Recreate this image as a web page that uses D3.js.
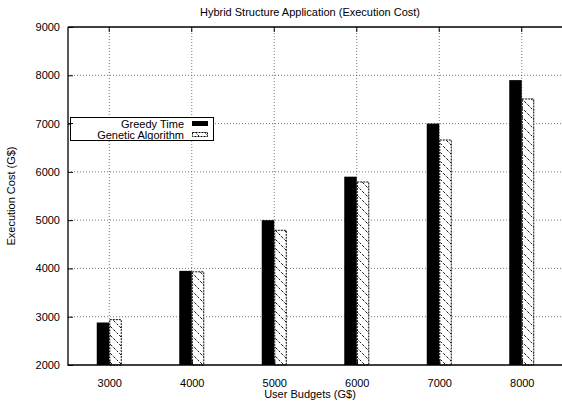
<!DOCTYPE html>
<html><head><meta charset="utf-8">
<script src="https://cdn.jsdelivr.net/npm/d3@7"></script>
<style>body{margin:0;background:#fff}svg{display:block}text{font-family:"Liberation Sans",Arial,sans-serif;fill:#000}</style>
</head><body><svg id="c" width="562" height="402"></svg>
<script>
const categories = [3000, 4000, 5000, 6000, 7000, 8000];
const greedyTime = [2880, 3950, 5000, 5900, 7000, 7900];
const geneticAlgorithm = [2950, 3940, 4800, 5800, 6670, 7520];
const yTicks = [2000, 3000, 4000, 5000, 6000, 7000, 8000, 9000];
const seriesNames = ["Greedy Time", "Genetic Algorithm"];

const svg = d3.select("#c");
const L = 68, R = 563, T = 27, B = 365;
const FS = 11;
const x = d3.scaleLinear().domain([2500, 8500]).range([L, R]);
const y = d3.scaleLinear().domain([2000, 9000]).range([B, T]);
const bw = 12.5;

const defs = svg.append("defs");
const pat = defs.append("pattern").attr("id", "hatch").attr("patternUnits", "userSpaceOnUse")
  .attr("width", 9).attr("height", 9);
pat.append("rect").attr("width", 9).attr("height", 9).attr("fill", "#fff");
pat.append("path").attr("d", "M-1,-1 L10,10 M-1,8 L1,10 M8,-1 L10,1")
  .attr("stroke", "#000").attr("stroke-width", 0.9).attr("stroke-dasharray", "3,1.5");

// grid
const g = svg.append("g");
g.selectAll(".hg").data(yTicks.filter(d => d > 2000 && d < 9000)).join("line")
  .attr("x1", L).attr("x2", R).attr("y1", d => y(d)).attr("y2", d => y(d))
  .attr("stroke", "#555").attr("stroke-width", 0.8).attr("stroke-dasharray", "1,2");
g.selectAll(".vg").data(categories).join("line")
  .attr("x1", d => x(d)).attr("x2", d => x(d)).attr("y1", T).attr("y2", B)
  .attr("stroke", "#555").attr("stroke-width", 0.8).attr("stroke-dasharray", "1,2");

// bars
svg.append("g").selectAll("rect").data(categories).join("rect")
  .attr("x", d => x(d) - bw).attr("width", bw)
  .attr("y", (d, i) => y(greedyTime[i])).attr("height", (d, i) => B - y(greedyTime[i]))
  .attr("fill", "#000");
svg.append("g").selectAll("rect").data(categories).join("rect")
  .attr("x", d => x(d) + 0.5).attr("width", bw - 1)
  .attr("y", (d, i) => y(geneticAlgorithm[i]) + 0.5).attr("height", (d, i) => B - y(geneticAlgorithm[i]) - 0.5)
  .attr("fill", "url(#hatch)").attr("stroke", "#000").attr("stroke-width", 1).attr("stroke-dasharray", "2,1");

// axes frame
svg.append("path").attr("d", `M${L},${T}H${R}M${L},${T}V${B}H${R}`)
  .attr("fill", "none").attr("stroke", "#000").attr("stroke-width", 1.3);

const ya = d3.axisLeft(y).tickValues(yTicks).tickSize(-5).tickPadding(8).tickFormat(d3.format("d"));
const yg = svg.append("g").attr("transform", `translate(${L},0)`).call(ya);
yg.select(".domain").remove();
yg.selectAll("text").attr("font-size", FS);

const xa = d3.axisBottom(x).tickValues(categories).tickSize(-5).tickPadding(14).tickFormat(d3.format("d"));
const xg = svg.append("g").attr("transform", `translate(0,${B})`).call(xa);
xg.select(".domain").remove();
xg.selectAll("text").attr("font-size", FS);
svg.append("g").selectAll("line").data(categories).join("line")
  .attr("x1", d => x(d)).attr("x2", d => x(d)).attr("y1", T).attr("y2", T + 5).attr("stroke", "#000");

// titles
svg.append("text").attr("x", 310).attr("y", 16).attr("text-anchor", "middle").attr("font-size", FS)
  .text("Hybrid Structure Application (Execution Cost)");
svg.append("text").attr("x", 310).attr("y", 398).attr("text-anchor", "middle").attr("font-size", FS)
  .text("User Budgets (G$)");
svg.append("text").attr("transform", "translate(15,196) rotate(-90)").attr("text-anchor", "middle").attr("font-size", FS)
  .text("Execution Cost (G$)");

// legend
const lg = svg.append("g");
lg.append("rect").attr("x", 70.5).attr("y", 117.5).attr("width", 143).attr("height", 23)
  .attr("fill", "#fff").attr("stroke", "#000").attr("stroke-width", 1);
lg.append("line").attr("x1", L).attr("x2", L + 5).attr("y1", y(7000)).attr("y2", y(7000)).attr("stroke", "#000");
lg.append("text").attr("x", 184).attr("y", 127.5).attr("text-anchor", "end").attr("font-size", FS).text(seriesNames[0]);
lg.append("text").attr("x", 184).attr("y", 138.5).attr("text-anchor", "end").attr("font-size", FS).text(seriesNames[1]);
lg.append("rect").attr("x", 192).attr("y", 121).attr("width", 16).attr("height", 5).attr("fill", "#000");
lg.append("rect").attr("x", 192.5).attr("y", 132.5).attr("width", 15).attr("height", 4)
  .attr("fill", "url(#hatch)").attr("stroke", "#000").attr("stroke-width", 1).attr("stroke-dasharray", "2,1");
</script></body></html>
